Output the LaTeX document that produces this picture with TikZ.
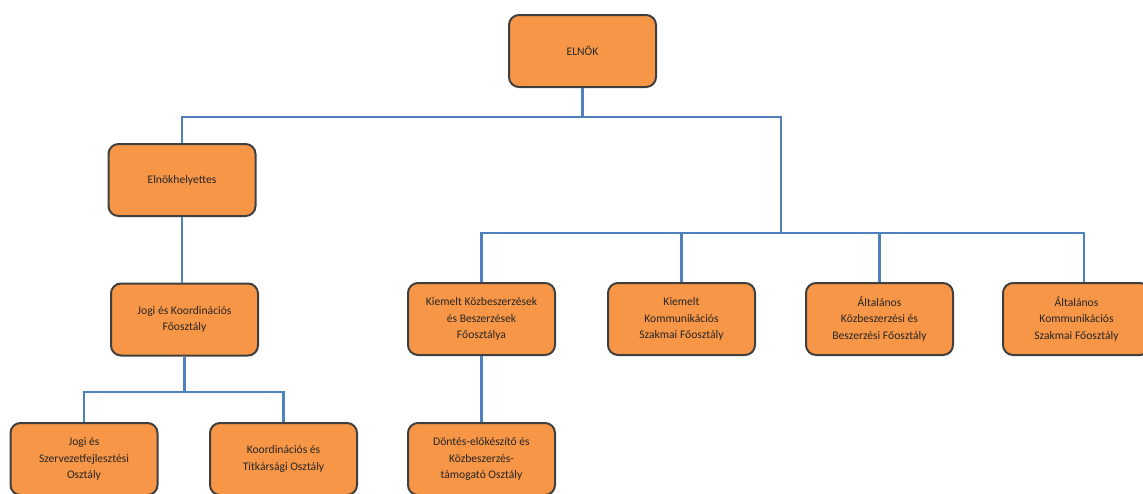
\documentclass[tikz,border=0pt]{standalone}
\usepackage{fontspec}
\setmainfont{Carlito}
\usepackage{xcolor}
\usepackage{tikz}
\usetikzlibrary{positioning, calc}

\definecolor{boxfill}{HTML}{F79646}
\definecolor{boxline}{HTML}{3F3F3F}
\definecolor{linkblue}{HTML}{4F81BD}

\begin{document}
\begin{tikzpicture}[
    x=1pt, y=-1pt,
    unit/.style={draw=boxline, line width=2pt, fill=boxfill, rounded corners=10pt,
                 minimum width=147pt, minimum height=72pt, align=center,
                 text=black!85, font=\fontsize{11.6}{16.8}\selectfont, inner sep=2pt},
    link/.style={draw=linkblue, line width=2.4pt}
]
\useasboundingbox (0,0) rectangle (1143,493);
\clip (0,0) rectangle (1143,493);

\coordinate (busA) at (582.5,117);
\coordinate (busB) at (781,233);
\coordinate (busC) at (184.5,392);

\node[unit] (elnok) at (582.5,51) {ELNÖK};
\node[unit] (helyettes) at (182,180) {Elnökhelyettes};
\node[unit] (jogikoord) at (184.5,319.5) {Jogi és Koordinációs\\Főosztály};
\node[unit] (jogiszerv) at (84,459) {Jogi és\\Szervezetfejlesztési\\Osztály};
\node[unit] (titkar) at (283.5,459) {Koordinációs és\\Titkársági Osztály};
\node[unit] (kiemkozb) at (481.5,319) {Kiemelt Közbeszerzések\\és Beszerzések\\Főosztálya};
\node[unit] (dontes) at (481.5,459) {Döntés-előkészítő és\\Közbeszerzés-\\támogató Osztály};
\node[unit] (kiemkomm) at (681.5,319) {Kiemelt\\Kommunikációs\\Szakmai Főosztály};
\node[unit] (altkozb) at (879.5,319) {Általános\\Közbeszerzési és\\Beszerzési Főosztály};
\node[unit] (altkomm) at (1076.5,319) {Általános\\Kommunikációs\\Szakmai Főosztály};

\draw[link] (elnok) -- (busA);
\draw[link] (busA) -| (helyettes);
\draw[link] (busA) -| (busB);
\draw[link] (busB) -| (kiemkozb);
\draw[link] (busB) -| (kiemkomm);
\draw[link] (busB) -| (altkozb);
\draw[link] (busB) -| ([xshift=7.5pt]altkomm.north);
\draw[link] (helyettes.south) -- (helyettes.south |- jogikoord.north);
\draw[link] (jogikoord) -- (busC);
\draw[link] (busC) -| (jogiszerv);
\draw[link] (busC) -| (titkar);
\draw[link] (kiemkozb) -- (dontes);
\end{tikzpicture}
\end{document}
